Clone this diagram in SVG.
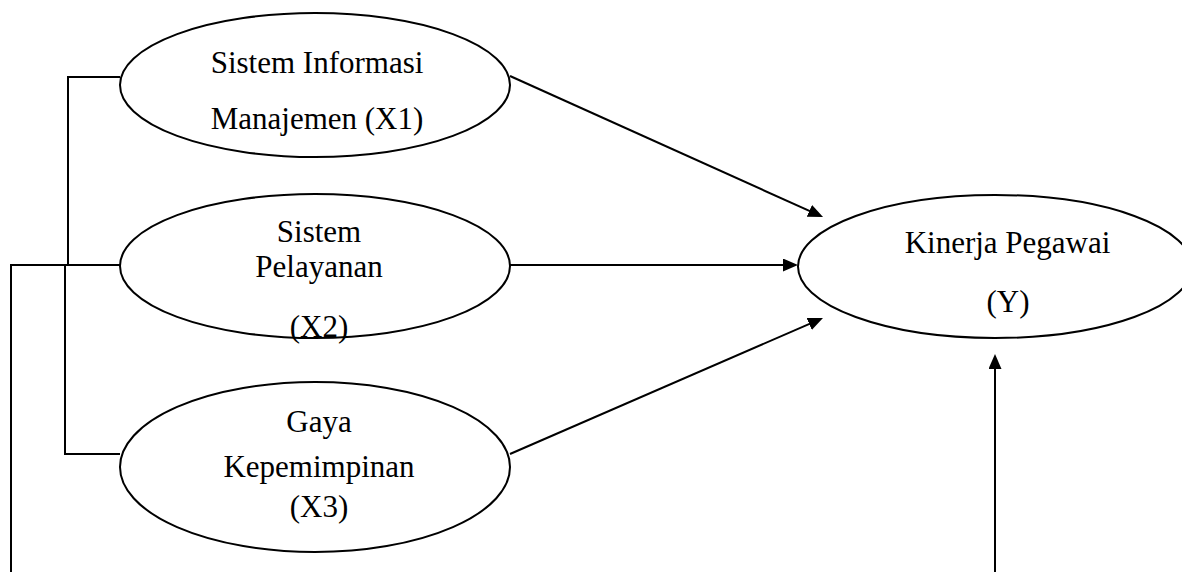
<svg xmlns="http://www.w3.org/2000/svg" width="1182" height="572" viewBox="0 0 1182 572">
<style>
.node ellipse{fill:#fff;stroke:#000;stroke-width:2}
.lbl{font-family:"Liberation Serif","Times New Roman",serif;font-size:31px;fill:#000;text-anchor:middle}
.conn{fill:none;stroke:#000;stroke-width:2}
</style>
<defs>
<marker id="arr" markerUnits="userSpaceOnUse" markerWidth="16" markerHeight="14" refX="11" refY="6.5" orient="auto">
<path d="M0,0 L15,6.5 L0,13 z" fill="#000"/>
</marker>
</defs>
<g id="connectors">
<path class="conn" d="M120,77 H68 V265"/>
<path class="conn" d="M65,265 V454 H120"/>
<path class="conn" d="M11,572 V265 H120"/>
<path class="conn" d="M510,76 L819.4,215.4" marker-end="url(#arr)"/>
<path class="conn" d="M510,265 L794,265" marker-end="url(#arr)"/>
<path class="conn" d="M510,454 L819.3,319.6" marker-end="url(#arr)"/>
<path class="conn" d="M995,572 L995,358" marker-end="url(#arr)"/>
</g>
<g id="x1" class="node">
<ellipse cx="315" cy="85" rx="195" ry="72"/>
<text class="lbl" x="317" y="73">Sistem Informasi</text>
<text class="lbl" x="317" y="129">Manajemen (X1)</text>
</g>
<g id="x2" class="node">
<ellipse cx="315" cy="266" rx="195" ry="72"/>
<text class="lbl" x="319" y="242">Sistem</text>
<text class="lbl" x="319" y="277">Pelayanan</text>
<text class="lbl" x="319" y="337">(X2)</text>
</g>
<g id="x3" class="node">
<ellipse cx="315" cy="467" rx="195" ry="85"/>
<text class="lbl" x="319" y="432">Gaya</text>
<text class="lbl" x="319" y="477">Kepemimpinan</text>
<text class="lbl" x="319" y="517">(X3)</text>
</g>
<g id="y" class="node">
<ellipse cx="995" cy="266.5" rx="197" ry="71.5"/>
<text class="lbl" x="1007.5" y="253">Kinerja Pegawai</text>
<text class="lbl" x="1008" y="312">(Y)</text>
</g>
</svg>
